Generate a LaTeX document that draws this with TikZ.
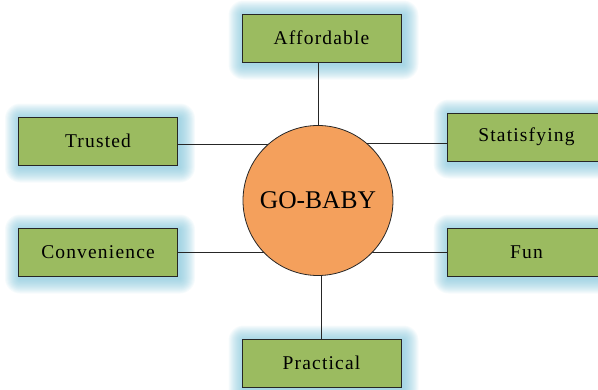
\documentclass[tikz,border=0pt]{standalone}
\usepackage{fontspec}
\setmainfont{Liberation Serif}
\newfontfamily\boxfont[LetterSpace=6]{Liberation Serif}
\usetikzlibrary{backgrounds}
\definecolor{boxgreen}{RGB}{155,187,96}
\definecolor{ballorange}{RGB}{244,160,92}
\definecolor{glowblue}{RGB}{120,192,215}

\begin{document}
\begin{tikzpicture}[x=1pt,y=-1pt,
    item/.style={draw=black!85,fill=boxgreen,line width=1pt,minimum width=159pt,
                 minimum height=48pt,inner sep=0pt,font=\boxfont\fontsize{19.5}{22}\selectfont},
    hub/.style={circle,draw=black!85,fill=ballorange,line width=0.8pt,minimum size=150pt,
                inner sep=0pt,font=\fontsize{25.5}{30}\selectfont},
    link/.style={draw=black!85,line width=0.9pt}]

  \useasboundingbox (0,0) rectangle (598,389);

  \node[hub]  (GB) at (318,200.5) {GO-BABY};
  \node[item] (AF) at (321.5,38)  {Affordable};
  \node[item] (TR) at (98,141)    {Trusted};
  \node[item] (ST) at (526.5,137) {Statisfying};
  \node[item] (CO) at (98,252)    {Convenience};
  \node[item] (FU) at (526.5,252) {Fun};
  \node[item] (PR) at (321.5,363) {Practical};

  \coordinate (TRl) at ([yshift=-3pt]TR.east);
  \coordinate (STl) at ([yshift=-6pt]ST.west);

  \begin{scope}[on background layer]
    % soft glow round the boxes
    \foreach \n in {AF,TR,ST,CO,FU,PR}
      \foreach \r in {1,...,15}
        \fill[glowblue,opacity=0.065,rounded corners=\r pt]
          ([shift={(-\r pt+2pt,-\r pt-2pt)}]\n.south west) rectangle ([shift={(\r pt+2pt,\r pt-2pt)}]\n.north east);

    \draw[link] (GB.center) -- (GB.center |- AF.south)
                (PR.north)  -- (PR.north |- GB.center)
                (TRl)       -- (TRl -| GB.center)
                (STl)       -- (STl -| GB.center)
                (CO.east)   -- (CO.east -| GB.center)
                (FU.west)   -- (FU.west -| GB.center);
  \end{scope}
\end{tikzpicture}
\end{document}
